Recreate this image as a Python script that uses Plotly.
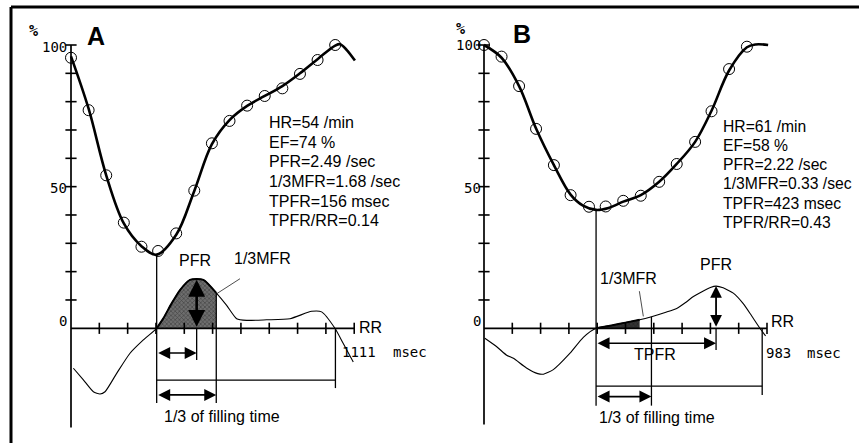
import numpy as np
import plotly.graph_objects as go

W, H = 859, 443

# ---------------- Panel A data ----------------
a_frame_t = [0, 74, 148, 222, 296, 366, 442, 518, 592, 666, 740, 814, 888, 962, 1036, 1110]
a_frame_v = [95.5, 77, 54, 37.3, 28.8, 27.3, 33.5, 48.6, 65.3, 73.2, 78.6, 82, 84.7, 89.8, 94.7, 100]
a_fit_t = [0, 74, 148, 222, 296, 360, 442, 518, 592, 666, 740, 814, 888, 962, 1036, 1110, 1131, 1158, 1193]
a_fit_v = [96, 77.5, 54, 37, 29, 26, 33, 48.5, 65, 73.5, 78.5, 82, 85.5, 90, 95, 99.8, 100.3, 98.3, 94.5]
a_dvdt_t = [10, 52, 94, 122, 143, 192, 248, 304, 360, 388, 423, 458, 500, 556, 610, 654, 696, 738, 822, 920, 1011, 1053, 1109, 1144, 1186]
a_dvdt_v = [-14.1, -18.2, -22.4, -23.2, -22.4, -15.9, -8.8, -4.1, 0, 3.5, 8.8, 13.5, 17.1, 17.1, 12.5, 8.1, 3.4, 2.8, 3.0, 3.4, 6.0, 5.8, 0, -5.4, -11.9]
a_rr = 1111
a_es = 360
a_pfr_t = 528
a_pfr_v = 17.1
a_xticks = [119, 238, 357, 476, 595, 714, 833, 952, 1071, 1190]
a_stats = ["HR=54 /min", "EF=74 %", "PFR=2.49 /sec", "1/3MFR=1.68 /sec", "TPFR=156 msec", "TPFR/RR=0.14"]

# ---------------- Panel B data ----------------
b_frame_t = [0, 62, 124, 184, 247, 306, 371, 430, 492, 554, 619, 681, 746, 804, 866, 929]
b_frame_v = [100, 95.9, 85.5, 70.4, 57.6, 47, 42.9, 43, 45, 46.8, 51.7, 58, 65.8, 76.6, 91.5, 99.4]
b_fit_t = [0, 62, 124, 184, 247, 306, 350, 396, 440, 492, 554, 619, 681, 746, 804, 866, 929, 960, 1004]
b_fit_v = [100, 95.5, 85.5, 70.5, 57.6, 47.2, 43.3, 41.8, 42.5, 44.7, 47, 51.7, 58, 65.8, 76.8, 91, 99.2, 100.2, 100]
b_dvdt_t = [3, 45, 80, 104, 150, 190, 210, 245, 304, 351, 396, 450, 500, 550, 592, 640, 681, 715, 740, 775, 800, 820, 845, 863, 881, 916, 945, 975, 995]
b_dvdt_v = [-3.5, -6.5, -9.5, -10.6, -14, -16, -16.2, -14.6, -8.8, -3.2, 0, 1.0, 2.0, 3.0, 4.1, 5.6, 7.0, 9.3, 11.2, 13.2, 14.4, 14.9, 14.3, 13.4, 12.4, 8.7, 4.5, 0, -2.7]
b_rr = 983
b_es = 396
b_pfr_t = 820
b_pfr_v = 14.9
b_xticks = [100, 200, 300, 400, 500, 600, 700, 800, 900, 1000]
b_stats = ["HR=61 /min", "EF=58 %", "PFR=2.22 /sec", "1/3MFR=0.33 /sec", "TPFR=423 msec", "TPFR/RR=0.43"]

y_ticks = [10, 20, 30, 40, 50, 60, 70, 80, 90, 100]
y_labels = ["100", "50", "0"]

SANS = "Liberation Sans, Arial, sans-serif"
MONO = "DejaVu Sans Mono, monospace"

fig = go.Figure()
annotations = []
shapes = []


def paper(px, py):
    return px / W, 1 - py / H


def txt(s, px, py, size, family=SANS, xanchor="center", yanchor="middle", bold=False):
    x, y = paper(px, py)
    annotations.append(dict(text=("<b>%s</b>" % s) if bold else s, x=x, y=y, xref="paper", yref="paper",
                            showarrow=False, xanchor=xanchor, yanchor=yanchor, borderpad=0,
                            font=dict(size=size, family=family, color="black")))


def panel(xr, yr, p):
    # derivative curve (thin)
    fig.add_trace(go.Scatter(x=p["dt"], y=p["dv"], mode="lines", xaxis=xr, yaxis=yr,
                             line=dict(color="black", width=1.1, shape="spline", smoothing=0.6),
                             hoverinfo="skip"))
    # shaded region during first third of filling
    third = p["es"] + (p["rr"] - p["es"]) / 3.0
    st = [t for t in p["dt"] if p["es"] <= t <= third]
    sv = [v for t, v in zip(p["dt"], p["dv"]) if p["es"] <= t <= third]
    fig.add_trace(go.Scatter(x=st, y=sv, mode="lines", fill="tozeroy", xaxis=xr, yaxis=yr,
                             line=dict(color="black", width=2, shape="spline", smoothing=0.6),
                             fillcolor=p["shade_bg"],
                             fillpattern=dict(shape="x", fgcolor="#111", bgcolor=p["shade_bg"], size=3, solidity=0.35),
                             hoverinfo="skip"))
    # axes
    fig.add_trace(go.Scatter(x=[0, 0], y=[p["ybot"], 100], mode="lines", xaxis=xr, yaxis=yr,
                             line=dict(color="black", width=1.7), hoverinfo="skip"))
    fig.add_trace(go.Scatter(x=[0, p["xticks"][-1]], y=[0, 0], mode="lines", xaxis=xr, yaxis=yr,
                             line=dict(color="black", width=1.7), hoverinfo="skip"))
    fig.add_trace(go.Scatter(x=p["xticks"], y=[0] * len(p["xticks"]), mode="markers", xaxis=xr, yaxis=yr,
                             marker=dict(symbol="line-ns", size=8, line=dict(color="black", width=1.6)),
                             cliponaxis=False, hoverinfo="skip"))
    fig.add_trace(go.Scatter(x=[0] * len(y_ticks), y=y_ticks, mode="markers", xaxis=xr, yaxis=yr,
                             marker=dict(symbol="line-ew", size=8, line=dict(color="black", width=1.6)),
                             cliponaxis=False, hoverinfo="skip"))
    # fitted volume curve and frame points
    fig.add_trace(go.Scatter(x=p["ft"], y=p["fv"], mode="lines", xaxis=xr, yaxis=yr,
                             line=dict(color="black", width=2.6, shape="spline", smoothing=1.0),
                             hoverinfo="skip"))
    fig.add_trace(go.Scatter(x=p["pt"], y=p["pv"], mode="markers", xaxis=xr, yaxis=yr,
                             marker=dict(symbol="circle-open", size=11, color="black", line=dict(width=1)),
                             cliponaxis=False, hoverinfo="skip"))

    es_min = float(np.interp(p["es"], p["ft"], p["fv"]))
    third_v = float(np.interp(third, p["dt"], p["dv"]))

    def vline(x, y0, y1, w=1.3):
        shapes.append(dict(type="line", xref=xr, yref=yr, x0=x, x1=x, y0=y0, y1=y1,
                           line=dict(color="black", width=w)))

    def hline(y, x0, x1, w=1.3):
        shapes.append(dict(type="line", xref=xr, yref=yr, x0=x0, x1=x1, y0=y, y1=y,
                           line=dict(color="black", width=w)))

    def darrow(x0, y0, x1, y1, w=1.6, size=1.5):
        annotations.append(dict(text="", x=x1, y=y1, ax=x0, ay=y0, xref=xr, yref=yr,
                                axref=xr, ayref=yr, showarrow=True, arrowhead=2, startarrowhead=2,
                                arrowside="end+start", arrowsize=size, startarrowsize=size,
                                arrowwidth=w, arrowcolor="black", standoff=0, startstandoff=0))

    vline(p["es"], es_min, p["low"])
    vline(third, third_v, p["low"])
    vline(p["rr"], 0, p["rrlow"])
    hline(p["fill_y"], p["es"], p["rr"])
    darrow(p["es"], p["third_y"], third, p["third_y"])
    darrow(p["es"], p["tp_y"], p["pfr_t"], p["tp_y"])
    vline(p["pfr_t"], 0, p["tp_low"])
    darrow(p["pfr_t"], 0, p["pfr_t"], p["pfr_v"], w=p["pfr_w"], size=1.3)
    shapes.append(dict(type="line", xref=xr, yref=yr, x0=p["lead"][0], y0=p["lead"][1],
                       x1=p["lead"][2], y1=p["lead"][3], line=dict(color="black", width=0.7)))


panel("x", "y", dict(dt=a_dvdt_t, dv=a_dvdt_v, ft=a_fit_t, fv=a_fit_v, pt=a_frame_t, pv=a_frame_v,
                      es=a_es, rr=a_rr, pfr_t=a_pfr_t, pfr_v=a_pfr_v, xticks=a_xticks, ybot=-35,
                      low=-26.4, rrlow=-21.1, fill_y=-18.3, third_y=-23.5, tp_y=-8.7, tp_low=-11.2,
                      pfr_w=2.6, lead=[710, 17.5, 612, 12.2], shade_bg="#6e6e6e"))
panel("x2", "y2", dict(dt=b_dvdt_t, dv=b_dvdt_v, ft=b_fit_t, fv=b_fit_v, pt=b_frame_t, pv=b_frame_v,
                        es=b_es, rr=b_rr, pfr_t=b_pfr_t, pfr_v=b_pfr_v, xticks=b_xticks, ybot=-34,
                        low=-27.3, rrlow=-23.5, fill_y=-20.4, third_y=-24.1, tp_y=-5.3, tp_low=-7.7,
                        pfr_w=1.8, lead=[549, 13.1, 563, 4.2], shade_bg="#333333"))

# ---------------- text ----------------
# panel A
txt("%", 33, 31, 15, MONO, bold=True)
txt("A", 96, 36, 25, SANS, bold=True)
for s, py in zip(y_labels, [47, 188, 321]):
    txt(s, 68, py, 14, MONO, xanchor="right")
for i, s in enumerate(a_stats):
    txt(s, 268, 122.7 + i * 19.6, 16, SANS, xanchor="left")
txt("PFR", 195, 260, 16)
txt("1/3MFR", 262, 258, 16)
txt("RR", 370, 327, 16)
txt("1111", 359, 352, 14, MONO)
txt("msec", 410, 352, 14, MONO)
txt("1/3 of filling time", 222, 416.5, 16)
# panel B
txt("%", 460, 29, 15, MONO, bold=True)
txt("B", 522, 34, 25, SANS, bold=True)
for s, py in zip(y_labels, [45, 188, 321]):
    txt(s, 482, py, 14, MONO, xanchor="right")
for i, s in enumerate(b_stats):
    txt(s, 721.7, 126 + i * 19.3, 15.7, SANS, xanchor="left")
txt("PFR", 716, 264, 16)
txt("1/3MFR", 628, 278.5, 16)
txt("TPFR", 655, 354, 16)
txt("RR", 782, 321.5, 16)
txt("983", 778, 352.5, 14, MONO)
txt("msec", 824, 352.5, 14, MONO)
txt("1/3 of filling time", 657, 417, 16)

# frame border (left and top)
shapes.append(dict(type="line", xref="paper", yref="paper", x0=11 / W, x1=11 / W, y0=0, y1=1 - 7 / H,
                   line=dict(color="black", width=3)))
shapes.append(dict(type="line", xref="paper", yref="paper", x0=11 / W, x1=1, y0=1 - 7 / H, y1=1 - 7 / H,
                   line=dict(color="black", width=3)))


def axes_ranges(ox, sx, oy, sy, px0, px1, pt, pb):
    return ([(px0 - ox) / sx, (px1 - ox) / sx], [(oy - pb) / sy, (oy - pt) / sy],
            [px0 / W, px1 / W], [1 - pb / H, 1 - pt / H])


axA = axes_ranges(71, 0.238, 328.3, 2.833, 14, 432, 10, 440)
axB = axes_ranges(484, 0.283, 328.3, 2.833, 434, 859, 10, 440)

fig.update_layout(
    width=W, height=H, margin=dict(l=0, r=0, t=0, b=0),
    paper_bgcolor="white", plot_bgcolor="rgba(0,0,0,0)", showlegend=False,
    xaxis=dict(visible=False, range=axA[0], domain=axA[2], fixedrange=True),
    yaxis=dict(visible=False, range=axA[1], domain=axA[3], fixedrange=True),
    xaxis2=dict(visible=False, range=axB[0], domain=axB[2], anchor="y2", fixedrange=True),
    yaxis2=dict(visible=False, range=axB[1], domain=axB[3], anchor="x2", fixedrange=True),
    annotations=annotations, shapes=shapes,
)

fig.write_html("out.html", config={"displayModeBar": False},
               post_script="document.body.style.margin='0';document.body.style.overflow='hidden';")
